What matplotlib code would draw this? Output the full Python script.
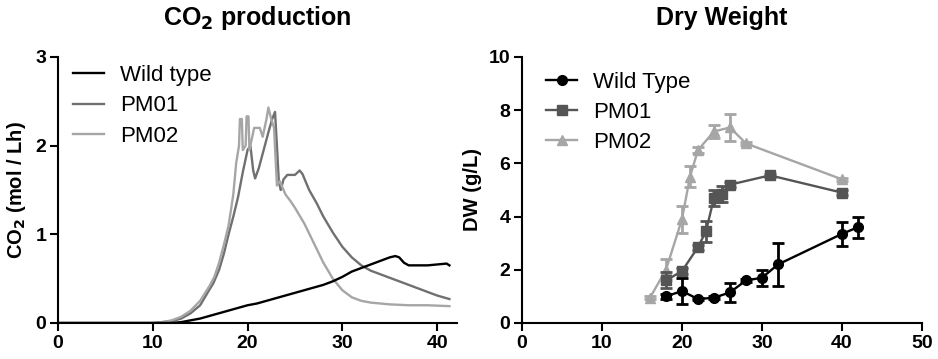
import numpy as np
import matplotlib
matplotlib.use('Agg')
import matplotlib.pyplot as plt

plt.rcParams['font.family'] = ['Liberation Sans', 'DejaVu Sans']

# CO2 production (time [h], CO2 [mol/Lh])
wt_t = [0, 12, 13, 14, 15, 16, 17, 18, 19, 20, 21, 22, 23, 24, 25, 26, 27, 28,
        29, 30, 31, 32, 33, 34, 35, 35.6, 36.0, 36.5, 37, 38, 39, 40, 41, 41.3]
wt_co2 = [0, 0, 0.01, 0.03, 0.05, 0.08, 0.11, 0.14, 0.17, 0.2, 0.22, 0.25, 0.28,
          0.31, 0.34, 0.37, 0.4, 0.43, 0.47, 0.52, 0.58, 0.62, 0.66, 0.7, 0.74,
          0.755, 0.74, 0.68, 0.65, 0.65, 0.65, 0.66, 0.67, 0.65]

pm01_t = [0, 10, 11, 12, 13, 14, 15, 16, 16.4, 17, 17.5, 18, 18.5, 19, 19.5, 20,
          20.3, 20.6, 20.8, 21.2, 21.7, 22.2, 22.6, 22.9, 23.1, 23.3, 23.5, 23.8,
          24.2, 25, 25.5, 25.8, 26.5, 27.3, 28, 29, 30, 31, 32, 33, 34, 35, 36,
          37, 38, 39, 40, 41.3]
pm01_co2 = [0, 0, 0.01, 0.02, 0.05, 0.11, 0.2, 0.38, 0.45, 0.6, 0.78, 1.0, 1.2,
            1.42, 1.7, 1.95, 2.0, 1.72, 1.63, 1.75, 1.95, 2.15, 2.3, 2.38, 2.0,
            1.6, 1.5, 1.62, 1.67, 1.67, 1.72, 1.68, 1.5, 1.35, 1.2, 1.02, 0.86,
            0.74, 0.65, 0.59, 0.55, 0.51, 0.47, 0.43, 0.39, 0.35, 0.31, 0.27]

pm02_t = [0, 10, 11, 12, 13, 14, 15, 16, 16.5, 17, 17.5, 18, 18.5, 18.8, 19.1,
          19.2, 19.4, 19.5, 19.8, 19.9, 20.1, 20.2, 20.5, 20.7, 21.3, 21.6, 22.0,
          22.2, 22.5, 22.8, 23.1, 23.4, 24, 24.5, 25, 26, 27, 28, 29, 30, 31, 32,
          33, 35, 37, 39, 41.3]
pm02_co2 = [0, 0, 0.01, 0.03, 0.07, 0.14, 0.25, 0.42, 0.52, 0.68, 0.88, 1.1,
            1.45, 1.8, 2.0, 2.3, 2.3, 1.95, 2.0, 2.33, 2.33, 1.95, 2.1, 2.2, 2.2,
            2.1, 2.3, 2.43, 2.3, 2.2, 1.55, 1.6, 1.45, 1.38, 1.3, 1.12, 0.9, 0.68,
            0.5, 0.37, 0.29, 0.25, 0.23, 0.21, 0.2, 0.2, 0.19]

# Dry weight (time [h], DW [g/L], error)
dw_wt_t = [18, 20, 22, 24, 26, 28, 30, 32, 40, 42]
dw_wt = [1.0, 1.2, 0.9, 0.95, 1.15, 1.6, 1.7, 2.2, 3.35, 3.6]
dw_wt_err = [0.1, 0.5, 0.05, 0.05, 0.35, 0.05, 0.3, 0.8, 0.45, 0.4]

dw_pm01_t = [18, 20, 22, 23, 24, 24.5, 25, 26, 31, 40]
dw_pm01 = [1.6, 1.95, 2.85, 3.45, 4.7, 4.75, 4.85, 5.2, 5.55, 4.9]
dw_pm01_err = [0.3, 0.1, 0.1, 0.4, 0.3, 0.2, 0.3, 0.1, 0.05, 0.1]

dw_pm02_t = [16, 18, 20, 21, 22, 24, 26, 28, 40]
dw_pm02 = [0.95, 2.0, 3.9, 5.5, 6.5, 7.2, 7.35, 6.75, 5.4]
dw_pm02_err = [0.05, 0.4, 0.5, 0.4, 0.1, 0.25, 0.5, 0.05, 0.05]

BLACK = '#000000'
DARK = '#707070'
LIGHT = '#a6a6a6'
DARK_DW = '#555555'

fig = plt.figure(figsize=(9.38, 3.59), dpi=100)
ax1 = fig.add_axes([0.0618, 0.1003, 0.4254, 0.741])
ax2 = fig.add_axes([0.5565, 0.1003, 0.4264, 0.741])


def style_axes(a):
    for s in ['top', 'right']:
        a.spines[s].set_visible(False)
    for s in ['left', 'bottom']:
        a.spines[s].set_linewidth(1.5)
    a.tick_params(direction='out', length=5.5, width=1.5, labelsize=14, pad=3)
    for lab in a.get_xticklabels() + a.get_yticklabels():
        lab.set_fontweight('bold')


# ---- CO2 production
ax1.plot(wt_t, wt_co2, color=BLACK, lw=1.7, label='Wild type', zorder=3)
ax1.plot(pm01_t, pm01_co2, color=DARK, lw=1.7, label='PM01')
ax1.plot(pm02_t, pm02_co2, color=LIGHT, lw=1.7, label='PM02')
ax1.set_xlim(0, 42.1)
ax1.set_ylim(0, 3)
ax1.set_xticks([0, 10, 20, 30, 40])
ax1.set_yticks([0, 1, 2, 3])
style_axes(ax1)
ax1.set_ylabel(r'CO$_\mathbf{2}$ (mol / Lh)', fontsize=14.5, fontweight='bold', labelpad=5)
ax1.set_title(r'CO$_\mathbf{2}$ production', fontsize=18, fontweight='bold', pad=23)
ax1.legend(loc='upper left', bbox_to_anchor=(0.038, 0.97), frameon=False,
           fontsize=16, handlelength=1.4, handletextpad=0.7, labelspacing=0.42,
           borderpad=0, borderaxespad=0)

# ---- Dry weight
h_wt = ax2.errorbar(dw_wt_t, dw_wt, yerr=dw_wt_err, color=BLACK, lw=1.7, marker='o',
                    ms=7, capsize=4, elinewidth=2, capthick=2, zorder=4)
h_01 = ax2.errorbar(dw_pm01_t, dw_pm01, yerr=dw_pm01_err, color=DARK_DW, lw=1.7,
                    marker='s', ms=7, capsize=4, elinewidth=2, capthick=2, zorder=3)
h_02 = ax2.errorbar(dw_pm02_t, dw_pm02, yerr=dw_pm02_err, color=LIGHT, lw=1.7,
                    marker='^', ms=7.5, capsize=4, elinewidth=2, capthick=2, zorder=2)
ax2.set_xlim(0, 50)
ax2.set_ylim(0, 10)
ax2.set_xticks([0, 10, 20, 30, 40, 50])
ax2.set_yticks([0, 2, 4, 6, 8, 10])
style_axes(ax2)
ax2.set_ylabel('DW (g/L)', fontsize=14.5, fontweight='bold', labelpad=5)
ax2.set_title('Dry Weight', fontsize=18, fontweight='bold', pad=23)
ax2.legend([h_wt[0], h_01[0], h_02[0]], ['Wild Type', 'PM01', 'PM02'],
           loc='upper left', bbox_to_anchor=(0.06, 0.945), frameon=False,
           fontsize=16, handlelength=1.4, handletextpad=0.7, labelspacing=0.42,
           borderpad=0, borderaxespad=0)

fig.savefig('out.png', dpi=100)
